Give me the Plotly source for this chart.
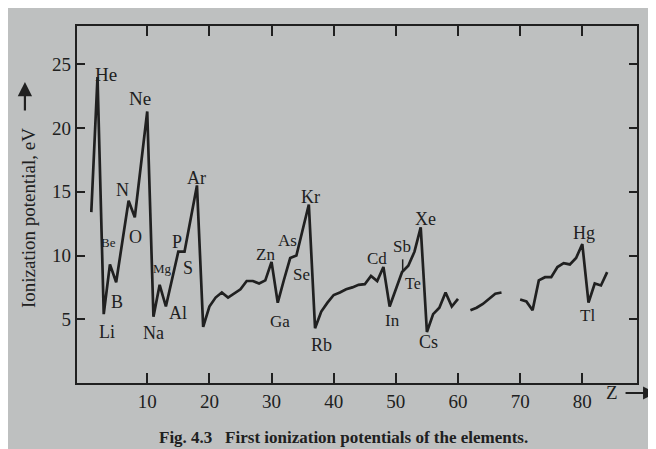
import plotly.graph_objects as go

# Atomic number Z and first ionization potential (eV)
Z = list(range(1, 85))
ionization_eV = [
    13.4, 24.0, 5.4, 9.3, 7.9, 11.1, 14.3, 13.0, 17.2, 21.3,      # 1-10
    5.2, 7.7, 6.0, 8.1, 10.3, 10.3, 12.9, 15.5, 4.4, 6.0,          # 11-20
    6.7, 7.1, 6.7, 7.0, 7.35, 8.0, 8.0, 7.8, 8.05, 9.5,            # 21-30
    6.3, 8.1, 9.8, 10.0, 12.0, 14.0, 4.3, 5.6, 6.3, 6.9,           # 31-40
    7.1, 7.35, 7.5, 7.7, 7.75, 8.4, 8.0, 9.1, 6.0, 7.3,            # 41-50
    8.7, 9.2, 10.3, 12.2, 4.0, 5.4, 5.9, 7.1, 6.0, 6.6,            # 51-60
    None, 5.7, 5.9, 6.2, 6.6, 7.0, 7.1, None, None, 6.55,          # 61-70
    6.4, 5.7, 8.05, 8.3, 8.3, 9.1, 9.4, 9.3, 9.8, 10.9,            # 71-80
    6.3, 7.8, 7.65, 8.7,                                           # 81-84
]

# Element labels: text, Z position, eV position, font size
label_text = ["He", "Ne", "N", "O", "Be", "B", "Li", "Na", "Mg", "Al", "P", "S", "Ar",
              "Zn", "As", "Se", "Ga", "Kr", "Rb", "Cd", "Sb", "Te", "In", "Xe", "Cs",
              "Hg", "Tl"]
label_z = [3.4, 8.85, 6.1, 8.05, 3.7, 5.15, 3.55, 10.95, 12.4, 14.95, 14.8, 16.6, 17.85,
           29.1, 32.5, 34.9, 31.4, 36.2, 38.1, 47.0, 51.0, 52.8, 49.4, 54.7, 55.2,
           80.3, 80.9]
label_v = [24.2, 22.3, 15.1, 11.45, 11.0, 6.35, 4.0, 3.9, 9.0, 5.5, 11.05, 9.0, 16.1,
           10.1, 11.2, 8.5, 4.8, 14.6, 3.0, 9.8, 10.7, 7.8, 4.9, 12.9, 3.2,
           11.8, 5.3]
label_size = [19, 19, 18, 18, 13, 18, 18, 18, 13, 18, 18, 18, 18,
              17, 17, 17, 17, 18, 18, 17, 17, 16, 17, 18, 18,
              18, 17]

x_ticks = [10, 20, 30, 40, 50, 60, 70, 80]
y_ticks = [5, 10, 15, 20, 25]

INK = "#202020"
PAGE = "#bec0c0"
FONT = "Liberation Serif"

fig = go.Figure()
fig.add_trace(go.Scatter(
    x=Z, y=ionization_eV, mode="lines", connectgaps=False,
    line=dict(color=INK, width=2.7), hoverinfo="skip", showlegend=False,
))

annotations = []
for t, zx, v, s in zip(label_text, label_z, label_v, label_size):
    annotations.append(dict(x=zx, y=v, xref="x", yref="y", text=t, showarrow=False,
                            xanchor="center", yanchor="middle",
                            font=dict(family=FONT, size=s, color=INK)))

# y-axis title with upward arrow
annotations.append(dict(x=-0.0875, y=0.462, xref="paper", yref="paper",
                        xanchor="center", yanchor="middle",
                        text="Ionization potential, eV", textangle=-90, showarrow=False,
                        font=dict(family=FONT, size=19, color=INK)))
annotations.append(dict(x=-0.093, y=0.843, xref="paper", yref="paper", text="",
                        showarrow=True, ax=0, ay=30, arrowhead=2, arrowsize=1.3,
                        arrowwidth=2.2, arrowcolor=INK))
# Z arrow
annotations.append(dict(x=0.955, y=-0.028, xref="paper", yref="paper", text="Z",
                        xanchor="center", yanchor="middle",
                        showarrow=False, font=dict(family=FONT, size=19, color=INK)))
annotations.append(dict(x=1.034, y=-0.028, xref="paper", yref="paper", text="",
                        showarrow=True, ax=-32, ay=0, arrowhead=2, arrowsize=1.3,
                        arrowwidth=2.0, arrowcolor=INK))
# caption
annotations.append(dict(x=0.475, y=-0.154, xref="paper", yref="paper",
                        xanchor="center", yanchor="middle",
                        text="<b>Fig. 4.3\u00a0\u00a0\u00a0First ionization potentials of the elements.</b>",
                        showarrow=False, font=dict(family=FONT, size=17, color=INK)))

shapes = [
    # Sb pointer
    dict(type="line", xref="x", yref="y", x0=51.1, x1=51.1, y0=8.8, y1=9.7,
         line=dict(color=INK, width=1.5)),
]

# the page body adds an 8 px offset, margins compensate for it
fig.update_layout(
    width=656, height=449,
    margin=dict(l=69, r=27, t=18, b=74),
    paper_bgcolor=PAGE, plot_bgcolor=PAGE,
    font=dict(family=FONT, color=INK, size=19),
    annotations=annotations, shapes=shapes,
    hovermode=False,
)
fig.update_xaxes(range=[-1.3, 88.8], tickvals=x_ticks, ticks="inside", ticklen=10,
                 tickwidth=2, tickcolor=INK, showline=True, linewidth=2.2, linecolor=INK,
                 mirror="ticks", showgrid=False, zeroline=False,
                 tickfont=dict(family=FONT, size=19, color=INK))
fig.update_yaxes(range=[0, 28], tickvals=y_ticks, ticks="inside", ticklen=8,
                 tickwidth=2, tickcolor=INK, showline=True, linewidth=2.2, linecolor=INK,
                 mirror="ticks", showgrid=False, zeroline=False,
                 tickfont=dict(family=FONT, size=19, color=INK))

fig.write_html("out.html", config={"displayModeBar": False})
